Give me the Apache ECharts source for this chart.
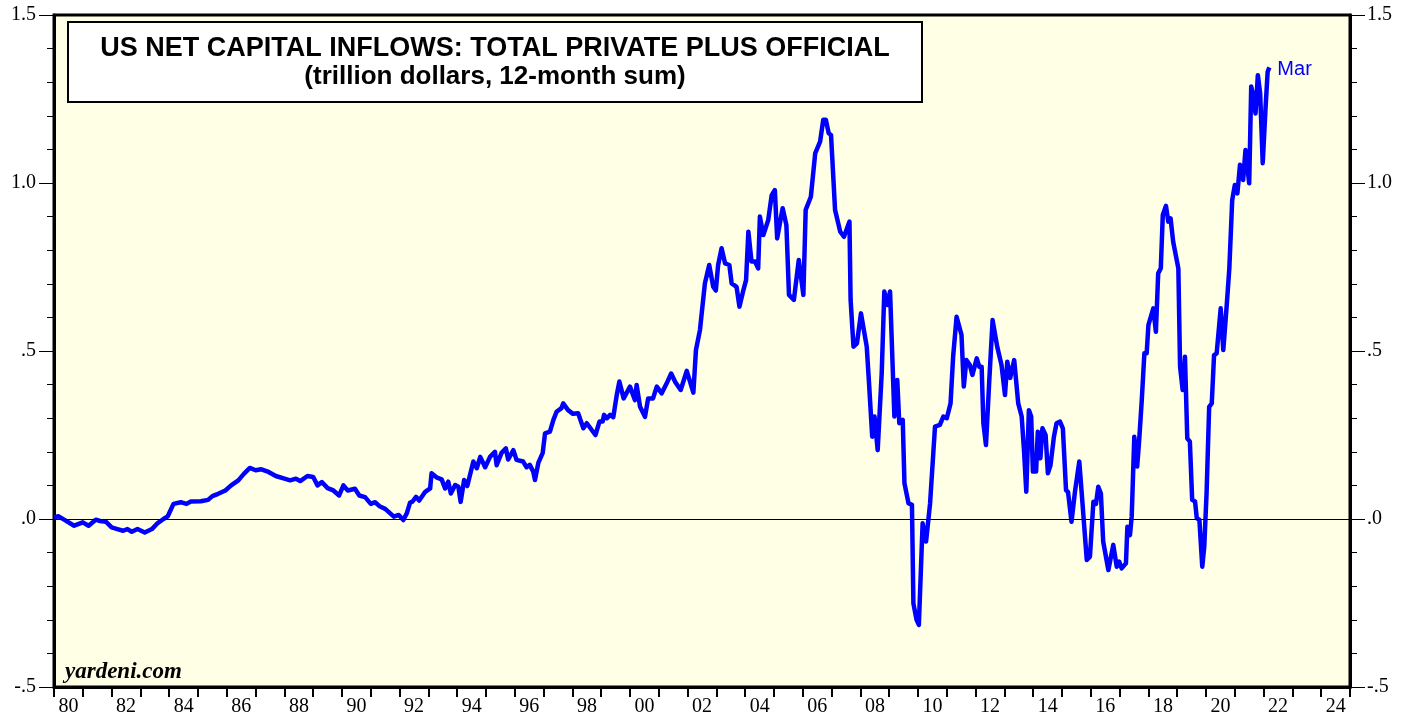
<!DOCTYPE html>
<html>
<head>
<meta charset="utf-8">
<script src="https://cdn.jsdelivr.net/npm/echarts@6/dist/echarts.min.js"></script>
<style>
  html, body { margin: 0; padding: 0; background: #fff; }
  #chart { width: 1416px; height: 719px; }
</style>
</head>
<body>
<div id="chart"></div>
<script>
  // monthly-ish readings (decimal year, trillion $)
  const dates = [
    1980.00, 1980.15, 1980.35, 1980.70, 1981.00, 1981.20, 1981.45, 1981.60, 1981.80, 1982.00,
    1982.20, 1982.40, 1982.55, 1982.70, 1982.90, 1983.15, 1983.40, 1983.60, 1983.80, 1983.95,
    1984.15, 1984.40, 1984.60, 1984.75, 1985.10, 1985.35, 1985.50, 1985.70, 1985.95, 1986.15,
    1986.40, 1986.60, 1986.80, 1987.00, 1987.20, 1987.45, 1987.70, 1988.00, 1988.20, 1988.40,
    1988.55, 1988.80, 1989.00, 1989.15, 1989.30, 1989.50, 1989.70, 1989.90, 1990.05, 1990.20,
    1990.45, 1990.60, 1990.80, 1991.00, 1991.15, 1991.32, 1991.50, 1991.80, 1991.97, 1992.13,
    1992.25, 1992.36, 1992.45, 1992.57, 1992.68, 1992.89, 1993.06, 1993.11, 1993.28, 1993.46,
    1993.58, 1993.69, 1993.78, 1993.93, 1994.04, 1994.12, 1994.24, 1994.35, 1994.56, 1994.68,
    1994.80, 1994.97, 1995.14, 1995.31, 1995.37, 1995.54, 1995.69, 1995.77, 1995.95, 1996.06,
    1996.29, 1996.41, 1996.52, 1996.64, 1996.70, 1996.82, 1996.97, 1997.05, 1997.22, 1997.34,
    1997.45, 1997.62, 1997.68, 1997.85, 1998.02, 1998.20, 1998.38, 1998.50, 1998.80, 1998.94,
    1999.05, 1999.10, 1999.20, 1999.31, 1999.42, 1999.54, 1999.60, 1999.63, 1999.78, 2000.00,
    2000.17, 2000.23, 2000.35, 2000.52, 2000.63, 2000.80, 2000.93, 2001.10, 2001.27, 2001.43,
    2001.57, 2001.76, 2001.97, 2002.20, 2002.29, 2002.43, 2002.60, 2002.75, 2002.89, 2002.98,
    2003.06, 2003.18, 2003.30, 2003.45, 2003.53, 2003.70, 2003.80, 2003.94, 2004.03, 2004.11,
    2004.22, 2004.34, 2004.45, 2004.51, 2004.63, 2004.80, 2004.92, 2005.03, 2005.11, 2005.30,
    2005.43, 2005.52, 2005.69, 2005.86, 2006.02, 2006.10, 2006.28, 2006.43, 2006.60, 2006.71,
    2006.80, 2006.90, 2006.98, 2007.12, 2007.30, 2007.43, 2007.62, 2007.66, 2007.76, 2007.88,
    2008.02, 2008.22, 2008.30, 2008.41, 2008.49, 2008.60, 2008.74, 2008.83, 2008.94, 2009.03,
    2009.18, 2009.28, 2009.35, 2009.47, 2009.53, 2009.67, 2009.79, 2009.84, 2009.95, 2010.03,
    2010.16, 2010.28, 2010.42, 2010.59, 2010.76, 2010.88, 2011.00, 2011.13, 2011.22, 2011.34,
    2011.51, 2011.59, 2011.68, 2011.80, 2011.89, 2012.04, 2012.13, 2012.21, 2012.27, 2012.36,
    2012.47, 2012.59, 2012.75, 2012.90, 2013.02, 2013.10, 2013.20, 2013.34, 2013.48, 2013.60,
    2013.68, 2013.76, 2013.85, 2013.93, 2013.99, 2014.10, 2014.16, 2014.25, 2014.32, 2014.43,
    2014.51, 2014.60, 2014.72, 2014.81, 2014.93, 2015.03, 2015.14, 2015.21, 2015.33, 2015.45,
    2015.60, 2015.72, 2015.86, 2015.97, 2016.09, 2016.18, 2016.26, 2016.35, 2016.43, 2016.61,
    2016.78, 2016.90, 2016.99, 2017.07, 2017.22, 2017.27, 2017.36, 2017.42, 2017.51, 2017.61,
    2017.68, 2017.77, 2017.86, 2017.94, 2018.00, 2018.17, 2018.26, 2018.34, 2018.43, 2018.50,
    2018.61, 2018.69, 2018.77, 2018.86, 2018.92, 2019.04, 2019.10, 2019.19, 2019.27, 2019.35,
    2019.44, 2019.52, 2019.62, 2019.68, 2019.77, 2019.87, 2019.94, 2020.02, 2020.11, 2020.20,
    2020.28, 2020.37, 2020.51, 2020.60, 2020.72, 2020.81, 2020.91, 2021.00, 2021.09, 2021.18,
    2021.29, 2021.37, 2021.50, 2021.57, 2021.66, 2021.72, 2021.80, 2021.88, 2021.97, 2022.07,
    2022.14, 2022.20
  ];
  const values = [
    0.005, 0.008, -0.002, -0.020, -0.010, -0.020, -0.002, -0.006, -0.008, -0.025,
    -0.030, -0.035, -0.030, -0.038, -0.030, -0.040, -0.030, -0.012, 0.000, 0.008,
    0.045, 0.050, 0.045, 0.052, 0.053, 0.057, 0.068, 0.075, 0.085, 0.100,
    0.115, 0.135, 0.152, 0.145, 0.148, 0.140, 0.128, 0.120, 0.115, 0.120,
    0.113, 0.128, 0.125, 0.100, 0.110, 0.092, 0.085, 0.070, 0.100, 0.085,
    0.090, 0.070, 0.065, 0.045, 0.050, 0.037, 0.030, 0.007, 0.012, -0.003,
    0.017, 0.048, 0.052, 0.066, 0.055, 0.081, 0.091, 0.136, 0.124, 0.118,
    0.091, 0.111, 0.076, 0.101, 0.096, 0.051, 0.116, 0.098, 0.171, 0.151,
    0.185, 0.154, 0.185, 0.200, 0.160, 0.197, 0.210, 0.177, 0.205, 0.176,
    0.171, 0.154, 0.161, 0.141, 0.116, 0.168, 0.197, 0.255, 0.260, 0.295,
    0.319, 0.330, 0.344, 0.324, 0.313, 0.315, 0.270, 0.285, 0.250, 0.290,
    0.290, 0.310, 0.300, 0.310, 0.303, 0.369, 0.369, 0.409, 0.359, 0.394,
    0.354, 0.399, 0.334, 0.304, 0.359, 0.359, 0.394, 0.374, 0.403, 0.433,
    0.408, 0.384, 0.441, 0.376, 0.503, 0.563, 0.701, 0.756, 0.691, 0.680,
    0.756, 0.806, 0.761, 0.756, 0.701, 0.691, 0.632, 0.682, 0.711, 0.855,
    0.766, 0.766, 0.746, 0.900, 0.845, 0.890, 0.964, 0.979, 0.835, 0.925,
    0.875, 0.667, 0.652, 0.771, 0.667, 0.920, 0.959, 1.088, 1.123, 1.188,
    1.188, 1.148, 1.143, 0.920, 0.855, 0.840, 0.885, 0.652, 0.513, 0.523,
    0.612, 0.513, 0.404, 0.245, 0.305, 0.205, 0.434, 0.677, 0.637, 0.677,
    0.305, 0.414, 0.285, 0.295, 0.106, 0.047, 0.042, -0.251, -0.300, -0.315,
    -0.013, -0.067, 0.047, 0.275, 0.280, 0.305, 0.300, 0.344, 0.483, 0.602,
    0.548, 0.394, 0.473, 0.458, 0.429, 0.478, 0.453, 0.453, 0.285, 0.220,
    0.404, 0.592, 0.513, 0.458, 0.369, 0.468, 0.420, 0.473, 0.344, 0.305,
    0.205, 0.081, 0.324, 0.305, 0.141, 0.141, 0.260, 0.181, 0.270, 0.250,
    0.136, 0.160, 0.245, 0.285, 0.290, 0.270, 0.086, 0.080, -0.008, 0.081,
    0.171, 0.037, -0.122, -0.112, 0.051, 0.045, 0.096, 0.076, -0.067, -0.152,
    -0.077, -0.142, -0.127, -0.147, -0.132, -0.023, -0.048, 0.007, 0.245, 0.156,
    0.235, 0.354, 0.493, 0.493, 0.577, 0.627, 0.557, 0.731, 0.746, 0.905,
    0.932, 0.885, 0.895, 0.825, 0.820, 0.746, 0.453, 0.384, 0.483, 0.240,
    0.230, 0.057, 0.052, 0.002, -0.002, -0.142, -0.082, 0.077, 0.334, 0.344,
    0.488, 0.493, 0.627, 0.503, 0.637, 0.746, 0.949, 0.994, 0.969, 1.054,
    1.009, 1.098, 0.999, 1.287, 1.252, 1.207, 1.321, 1.267, 1.059, 1.227,
    1.331, 1.344
  ];
  const yTicks = [-0.5, 0, 0.5, 1.0, 1.5];
  const lastLabel = 'Mar';
  const titleLines = ['US NET CAPITAL INFLOWS: TOTAL PRIVATE PLUS OFFICIAL', '(trillion dollars, 12-month sum)'];

  const chart = echarts.init(document.getElementById('chart'));

  const yLabel = v => v.toFixed(1).replace(/^(-?)0\./, '$1.');
  const serif = '"Liberation Serif", "Times New Roman", serif';
  const sans = '"Liberation Sans", Arial, sans-serif';

  const yAxisBase = {
    type: 'value',
    min: yTicks[0],
    max: yTicks[yTicks.length - 1],
    interval: 0.5,
    axisLine: { show: true, lineStyle: { color: '#000', width: 3 } },
    axisTick: { show: true, inside: false, length: 15, lineStyle: { color: '#000', width: 1 } },
    minorTick: { show: true, splitNumber: 5, length: 7, lineStyle: { color: '#000', width: 1 } },
    splitLine: { show: false },
    axisLabel: { color: '#000', fontFamily: serif, fontSize: 20, margin: 18, formatter: yLabel }
  };

  const boxX = 68, boxW = 854;

  const option = {
    backgroundColor: '#fff',
    animation: false,
    grid: {
      left: 54, right: 66, top: 15, bottom: 32,
      show: true, backgroundColor: '#FFFFE6', borderColor: '#000', borderWidth: 3
    },
    xAxis: {
      type: 'value',
      min: 1980,
      max: 2025,
      interval: 1,
      axisLine: { show: true, onZero: false, lineStyle: { color: '#000', width: 3 } },
      axisTick: { show: true, inside: false, length: 10, lineStyle: { color: '#000', width: 2 } },
      splitLine: { show: false },
      axisLabel: {
        color: '#000', fontFamily: serif, fontSize: 20, margin: 10,
        padding: [0, 0, 0, 29],
        formatter: v => (v % 2 === 0 && v < 2025) ? String(v).slice(2) : ''
      }
    },
    yAxis: [
      Object.assign({}, yAxisBase, { position: 'left' }),
      Object.assign({}, yAxisBase, { position: 'right', axisLabel: Object.assign({}, yAxisBase.axisLabel, { margin: 17 }) })
    ],
    series: [{
      type: 'line',
      data: dates.map((d, i) => [d, values[i]]),
      showSymbol: false,
      lineStyle: { color: '#0000FF', width: 4.5, join: 'round' },
      endLabel: {
        show: true, formatter: lastLabel, color: '#0000FF', fontSize: 20,
        fontFamily: sans, distance: 8, offset: [0, 2]
      },
      markLine: {
        silent: true, symbol: 'none', label: { show: false },
        lineStyle: { color: '#000', width: 1, type: 'solid' },
        data: [{ yAxis: 0 }]
      },
      z: 3
    }],
    graphic: [
      {
        type: 'rect', x: boxX, y: 22, z: 10,
        shape: { width: boxW, height: 80 },
        style: { fill: '#fff', stroke: '#000', lineWidth: 2 }
      },
      {
        type: 'text', x: boxX + boxW / 2, y: 49, z: 11,
        style: {
          text: titleLines[0], align: 'center', verticalAlign: 'middle',
          fontSize: 27, fontWeight: 'bold', fontFamily: sans, fill: '#000'
        }
      },
      {
        type: 'text', x: boxX + boxW / 2, y: 77, z: 11,
        style: {
          text: titleLines[1], align: 'center', verticalAlign: 'middle',
          fontSize: 26, fontWeight: 'bold', fontFamily: sans, fill: '#000'
        }
      },
      {
        type: 'text', x: 65, y: 672, z: 11,
        style: {
          text: 'yardeni.com', verticalAlign: 'middle',
          fontSize: 23, fontWeight: 'bold', fontStyle: 'italic', fontFamily: serif, fill: '#000'
        }
      }
    ]
  };

  chart.setOption(option);
</script>
</body>
</html>
